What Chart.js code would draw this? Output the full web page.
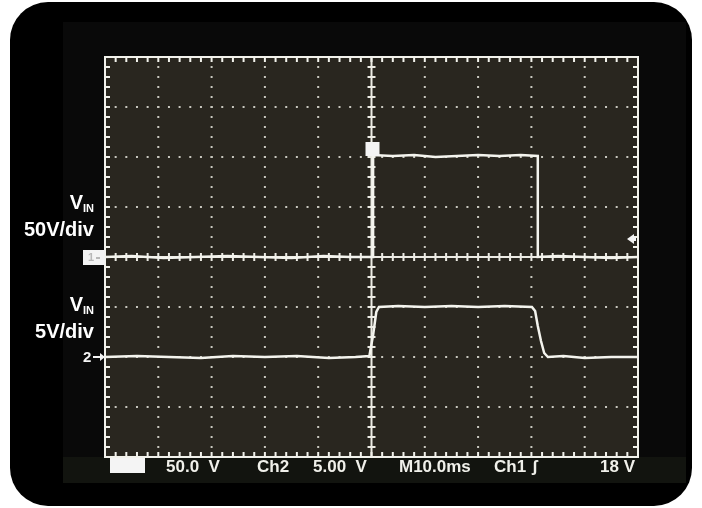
<!DOCTYPE html>
<html>
<head>
<meta charset="utf-8">
<script src="https://cdn.jsdelivr.net/npm/chart.js@4.4.1/dist/chart.umd.min.js"></script>
<style>
  body { margin: 0; background: #fff; width: 702px; height: 508px; overflow: hidden; position: relative; }
  #frame { position: absolute; left: 10px; top: 2px; width: 682px; height: 504px; background: #000; border-radius: 38px; }
  #screen { position: absolute; left: 63px; top: 22px; width: 623px; height: 461px; background: #090909; }
  #bar { position: absolute; left: 63px; top: 457px; width: 623px; height: 26px; background: #12140f; }
  #scope { position: absolute; left: 0; top: 0; }
  .lab { position: absolute; right: 608px; color: #fff; font: bold 20px "Liberation Sans", Arial, sans-serif; line-height: 20px; text-align: right; white-space: nowrap; }
  .lab sub { font-size: 11px; vertical-align: -3px; line-height: 0; }
  .st { position: absolute; top: 458px; color: #f0f0ea; font: bold 17px "Liberation Sans", Arial, sans-serif; line-height: 17px; white-space: pre; }
  #box { position: absolute; left: 110px; top: 458px; width: 35px; height: 15px; background: #f4f4f4; }
</style>
</head>
<body>
<div id="frame"></div>
<div id="screen"></div>
<div id="bar"></div>
<canvas id="scope" width="702" height="508"></canvas>

<div class="lab" style="top:192px">V<sub>IN</sub></div>
<div class="lab" style="top:219px">50V/div</div>
<div class="lab" style="top:294px">V<sub>IN</sub></div>
<div class="lab" style="top:321px">5V/div</div>

<div id="box"></div>
<div class="st" style="left:166px">50.0  V</div>
<div class="st" style="left:257px">Ch2</div>
<div class="st" style="left:313px">5.00  V</div>
<div class="st" style="left:399px">M10.0ms</div>
<div class="st" style="left:494px">Ch1</div>
<div class="st" style="left:532px">ʃ</div>
<div class="st" style="left:600px">18 V</div>

<script>
// scope settings
const msPerDiv = 10;
const ch1VoltsPerDiv = 50;
const ch2VoltsPerDiv = 5;
const ch1OffsetDiv = 0;
const ch2OffsetDiv = -2;
const triggerLevel = 18;   // volts on ch1
const triggerTime = 0;     // ms

// channel 1 (input, 50V/div)
const ch1Time  = [-50, -45, -39, -33, -27, -21, -15, -9, -4, 0.3, 0.3, 4, 8, 12, 16, 20, 24, 28, 31.2, 31.2, 35, 40, 45, 50];
const ch1Volts = [0, 1, -1, 0, 1, 0, -1, 1, 0, 0, 102, 101, 102, 100, 101, 102, 101, 102, 101, 0, 1, 0, -1, 0];

// channel 2 (5V/div)
const ch2Time  = [-50, -44, -38, -32, -26, -20, -14, -8, -3, -0.4, 0.3, 0.9, 1.4, 5, 10, 15, 20, 25, 30.1, 30.7, 31.2, 31.8, 32.4, 33.1, 36, 40, 45, 50];
const ch2Volts = [0, 0.1, 0, -0.1, 0.1, 0, 0.1, -0.1, 0, 0.1, 2.2, 4.5, 5.0, 5.1, 5.0, 5.1, 5.0, 5.1, 5.0, 4.6, 3.1, 1.6, 0.4, 0, 0.1, -0.1, 0, 0];

const toPoints = (times, volts, vpd, off) =>
  times.map((t, i) => ({ x: t, y: volts[i] / vpd + off }));

const graticule = {
  id: 'graticule',
  beforeDatasetsDraw(chart) {
    const ctx = chart.ctx;
    const xs = chart.scales.x, ys = chart.scales.y;
    const { left, right, top, bottom } = chart.chartArea;
    ctx.save();
    ctx.fillStyle = '#29261f';
    ctx.fillRect(left, top, right - left, bottom - top);

    // dotted division lines
    ctx.fillStyle = '#c9c8bf';
    for (let d = -4; d <= 4; d++) {
      if (d === 0) continue;
      const px = xs.getPixelForValue(d * msPerDiv);
      for (let s = -20; s <= 20; s++) {
        const py = ys.getPixelForValue(s / 5);
        ctx.fillRect(px - 1, py - 1, 2, 2);
      }
    }
    for (let d = -3; d <= 3; d++) {
      if (d === 0) continue;
      const py = ys.getPixelForValue(d);
      for (let s = -25; s <= 25; s++) {
        const px = xs.getPixelForValue(s * msPerDiv / 5);
        ctx.fillRect(px - 1, py - 1, 2, 2);
      }
    }

    // centre cross with minor ticks
    ctx.strokeStyle = '#ecebe4';
    ctx.lineWidth = 2;
    const cx = xs.getPixelForValue(0), cy = ys.getPixelForValue(0);
    ctx.beginPath();
    ctx.moveTo(cx, top); ctx.lineTo(cx, bottom);
    ctx.moveTo(left, cy); ctx.lineTo(right, cy);
    for (let s = -20; s <= 20; s++) {
      const py = ys.getPixelForValue(s / 5);
      ctx.moveTo(cx - 4, py); ctx.lineTo(cx + 4, py);
    }
    for (let s = -25; s <= 25; s++) {
      const px = xs.getPixelForValue(s * msPerDiv / 5);
      ctx.moveTo(px, cy - 4); ctx.lineTo(px, cy + 4);
    }
    ctx.stroke();

    // border with inward ticks
    ctx.strokeStyle = '#f2f2ec';
    ctx.beginPath();
    ctx.rect(left, top, right - left, bottom - top);
    for (let s = -25; s <= 25; s++) {
      const px = xs.getPixelForValue(s * msPerDiv / 5);
      ctx.moveTo(px, top); ctx.lineTo(px, top + 5);
      ctx.moveTo(px, bottom); ctx.lineTo(px, bottom - 5);
    }
    for (let s = -20; s <= 20; s++) {
      const py = ys.getPixelForValue(s / 5);
      ctx.moveTo(left, py); ctx.lineTo(left + 5, py);
      ctx.moveTo(right, py); ctx.lineTo(right - 5, py);
    }
    ctx.stroke();
    ctx.restore();
  },
  afterDatasetsDraw(chart) {
    const ctx = chart.ctx;
    const xs = chart.scales.x, ys = chart.scales.y;
    const { left, right } = chart.chartArea;
    ctx.save();

    // channel 1 ground marker
    const y1 = ys.getPixelForValue(ch1OffsetDiv);
    ctx.fillStyle = '#f4f4f4';
    ctx.fillRect(left - 22, y1 - 7, 22, 15);
    ctx.fillStyle = '#b8b8b8';
    ctx.font = 'bold 11px "Liberation Sans", Arial';
    ctx.textBaseline = 'middle';
    ctx.fillText('1', left - 17, y1 + 1);
    ctx.fillRect(left - 9, y1, 4, 2);

    // channel 2 ground marker
    const y2 = ys.getPixelForValue(ch2OffsetDiv);
    ctx.fillStyle = '#f4f4f4';
    ctx.font = 'bold 15px "Liberation Sans", Arial';
    ctx.fillText('2', left - 22, y2 + 1);
    ctx.fillRect(left - 12, y2 - 1, 12, 2);
    ctx.beginPath();
    ctx.moveTo(left, y2); ctx.lineTo(left - 5, y2 - 4); ctx.lineTo(left - 5, y2 + 4);
    ctx.fill();

    // trigger level arrow (ch1)
    const yt = ys.getPixelForValue(triggerLevel / ch1VoltsPerDiv + ch1OffsetDiv);
    ctx.beginPath();
    ctx.moveTo(right - 11, yt); ctx.lineTo(right - 4, yt - 5); ctx.lineTo(right - 4, yt + 5);
    ctx.fill();
    ctx.fillRect(right - 6, yt - 2, 4, 4);

    // trigger position marker
    const xt = xs.getPixelForValue(triggerTime);
    const yh = ys.getPixelForValue(ch1Volts[10] / ch1VoltsPerDiv + ch1OffsetDiv);
    ctx.fillRect(xt - 6, yh - 13, 14, 14);
    ctx.restore();
  }
};

new Chart(document.getElementById('scope'), {
  type: 'line',
  data: {
    datasets: [
      {
        label: 'Ch1',
        data: toPoints(ch1Time, ch1Volts, ch1VoltsPerDiv, ch1OffsetDiv),
        borderColor: '#f4f4ee',
        borderWidth: 2.5,
        pointRadius: 0,
        tension: 0
      },
      {
        label: 'Ch2',
        data: toPoints(ch2Time, ch2Volts, ch2VoltsPerDiv, ch2OffsetDiv),
        borderColor: '#f4f4ee',
        borderWidth: 2.5,
        pointRadius: 0,
        tension: 0
      }
    ]
  },
  options: {
    responsive: false,
    animation: false,
    devicePixelRatio: 1,
    layout: { padding: { left: 105, right: 64, top: 57, bottom: 51 } },
    scales: {
      x: { type: 'linear', min: -5 * msPerDiv, max: 5 * msPerDiv, display: false },
      y: { type: 'linear', min: -4, max: 4, display: false }
    },
    plugins: { legend: { display: false }, tooltip: { enabled: false } }
  },
  plugins: [graticule]
});
</script>
</body>
</html>
